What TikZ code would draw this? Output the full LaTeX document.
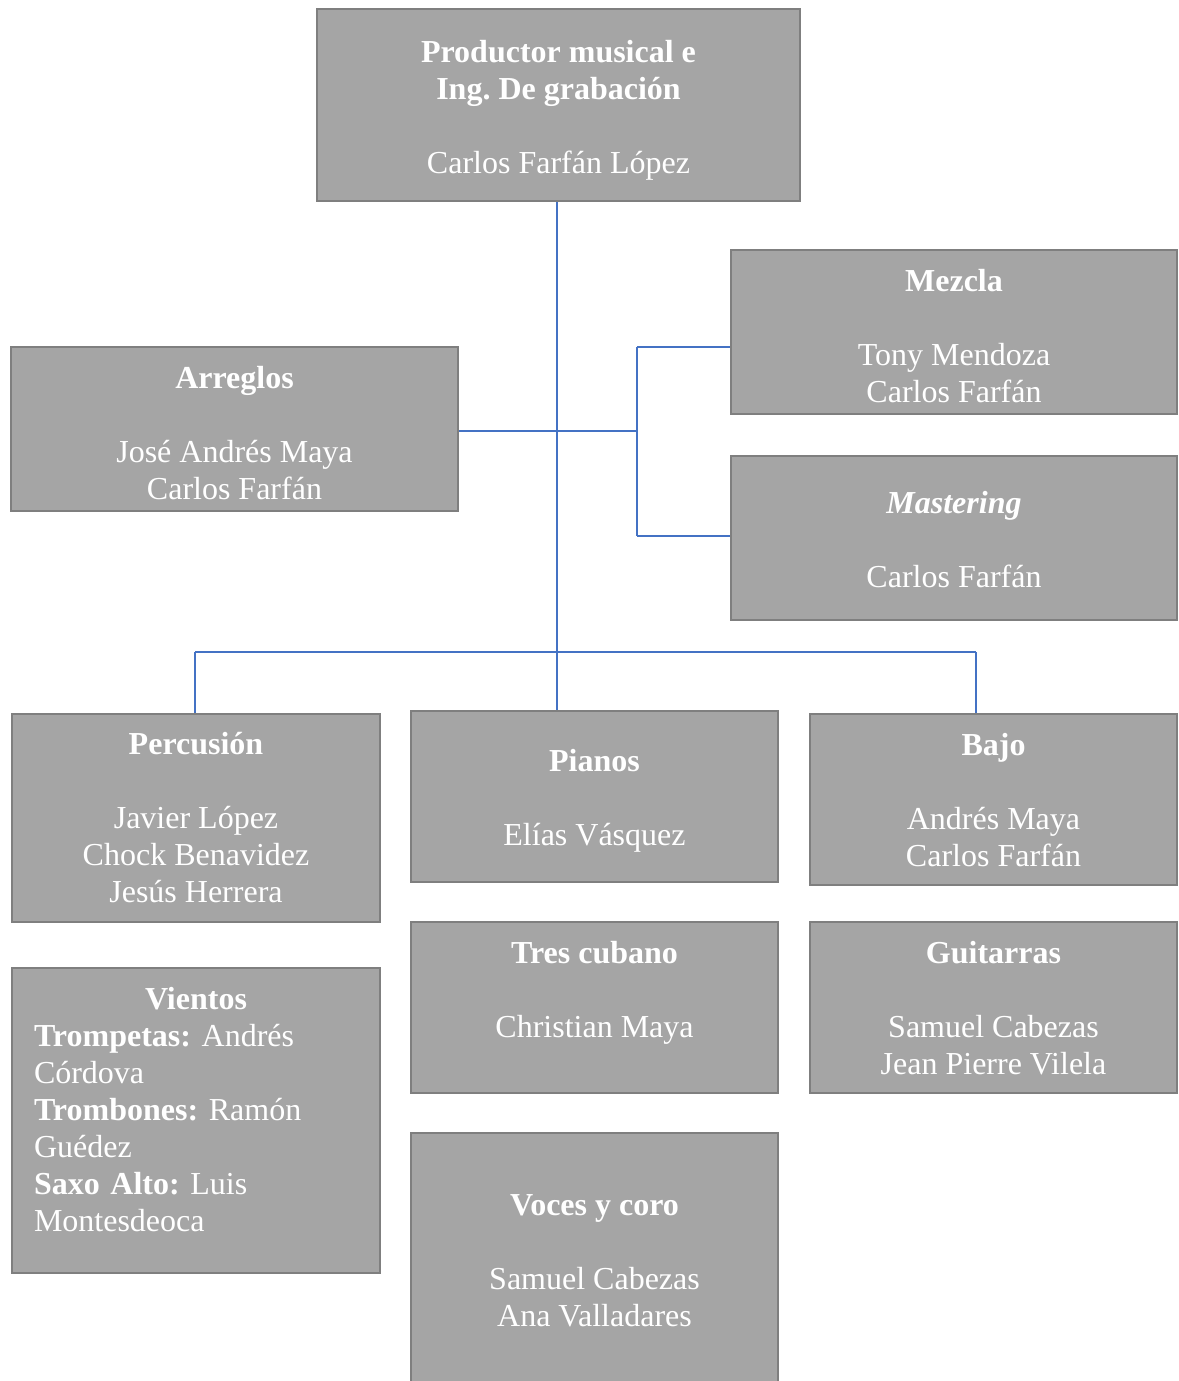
\documentclass[tikz,border=0pt]{standalone}
\usepackage{fontspec}
\setmainfont{Liberation Serif}
\frenchspacing
\definecolor{boxfill}{HTML}{A5A5A5}
\definecolor{boxline}{HTML}{7F7F7F}
\definecolor{conn}{HTML}{4472C4}
\begin{document}
\begin{tikzpicture}[x=1pt,y=-1pt,
  box/.style={draw=boxline, fill=boxfill, line width=2.5pt, inner sep=0pt},
  txt/.style={inner sep=0pt, text=white, align=center, font=\fontsize{32}{37}\selectfont},
  link/.style={draw=conn, line width=1.3pt}]
\useasboundingbox (0,0) rectangle (1178,1381);

% boxes
\node[box, minimum width=483pt, minimum height=192pt] (top) at (558.5,105) {};
\node[box, minimum width=446pt, minimum height=164pt] (mezcla) at (954,332) {};
\node[box, minimum width=447pt, minimum height=164pt] (arreglos) at (234.5,429) {};
\node[box, minimum width=446pt, minimum height=164pt] (mastering) at (954,538) {};
\node[box, minimum width=368pt, minimum height=208pt] (percusion) at (196,818) {};
\node[box, minimum width=367pt, minimum height=171pt] (pianos) at (594.5,796.5) {};
\node[box, minimum width=367pt, minimum height=171pt] (bajo) at (993.5,799.5) {};
\node[box, minimum width=368pt, minimum height=305pt] (vientos) at (196,1120.5) {};
\node[box, minimum width=367pt, minimum height=171pt] (tres) at (594.5,1007.5) {};
\node[box, minimum width=367pt, minimum height=171pt] (guitarras) at (993.5,1007.5) {};
\node[box, minimum width=367pt, minimum height=254pt] (voces) at (594.5,1260) {};

% texts
\node[txt] (top-t) at (558.5,110.5)
  {\textbf{Productor musical e}\\\textbf{Ing. De grabación}\\[37pt]Carlos Farfán López};
\node[txt] (mezcla-t) at (954,336.5)
  {\textbf{Mezcla}\\[37pt]Tony Mendoza\\Carlos Farfán};
\node[txt] (arreglos-t) at (234.5,433.5)
  {\textbf{Arreglos}\\[37pt]José Andrés Maya\\Carlos Farfán};
\node[txt] (mastering-t) at (954,539.5)
  {\textbf{\textit{Mastering}}\\[37pt]Carlos Farfán};
\node[txt] (percusion-t) at (196,818)
  {\textbf{Percusión}\\[37pt]Javier López\\Chock Benavidez\\Jesús Herrera};
\node[txt] (pianos-t) at (594.5,801)
  {\textbf{Pianos}\\[37pt]Elías Vásquez};
\node[txt] (bajo-t) at (993.5,800.5)
  {\textbf{Bajo}\\[37pt]Andrés Maya\\Carlos Farfán};
\node[txt, align=left, text width=324pt] (vientos-t) at (196,1109.5)
  {\makebox[324pt]{\textbf{Vientos}}\\\textbf{Trompetas:} Andrés\\Córdova\\\textbf{Trombones:} Ramón\\Guédez\\\textbf{Saxo Alto:} Luis\\Montesdeoca};
\node[txt] (tres-t) at (594.5,993)
  {\textbf{Tres cubano}\\[37pt]Christian Maya};
\node[txt] (guitarras-t) at (993.5,1008)
  {\textbf{Guitarras}\\[37pt]Samuel Cabezas\\Jean Pierre Vilela};
\node[txt] (voces-t) at (594.5,1260.5)
  {\textbf{Voces y coro}\\[37pt]Samuel Cabezas\\Ana Valladares};

% connectors
\coordinate (trunk) at (557,0);
\coordinate (jt) at (637,347);
\coordinate (jb) at (637,536);
\coordinate (busl) at (195,652);
\coordinate (busr) at (976,652);

\draw[link] (top.south -| trunk) -- (pianos.north -| trunk);
\draw[link] (arreglos.east |- 0,431) -- (637,431);
\draw[link] (jt) -- (jb);
\draw[link] (jt) -- (jt -| mezcla.west);
\draw[link] (jb) -- (jb -| mastering.west);
\draw[link] (busl) -- (busr);
\draw[link] (busl) -- (busl |- percusion.north);
\draw[link] (busr) -- (busr |- bajo.north);
\end{tikzpicture}
\end{document}
